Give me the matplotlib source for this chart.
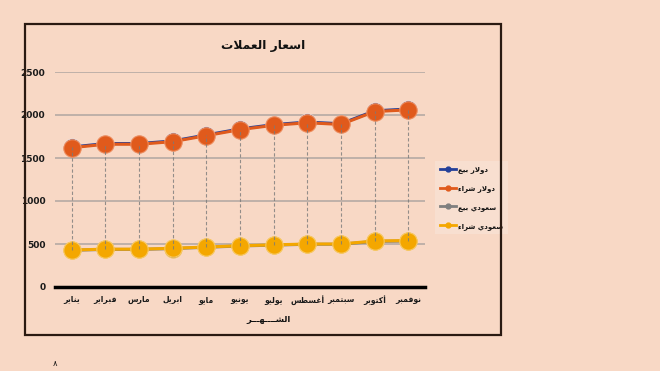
import matplotlib
matplotlib.use('Agg')
import matplotlib.pyplot as plt
from matplotlib.patches import Rectangle
from matplotlib.lines import Line2D

# ---------------- data ----------------
months = ['يناير', 'فبراير', 'مارس', 'ابريل', 'مايو', 'يونيو',
          'يوليو', 'أغسطس', 'سبتمبر', 'أكتوبر', 'نوفمبر']
dollar_sell = [1628, 1668, 1668, 1698, 1768, 1838, 1888, 1918, 1898, 2048, 2070]
dollar_buy = [1620, 1660, 1660, 1690, 1760, 1830, 1880, 1910, 1890, 2040, 2060]
saudi_sell = [427, 437, 437, 447, 462, 477, 487, 497, 497, 530, 535]
saudi_buy = [430, 440, 440, 450, 465, 480, 490, 500, 500, 535, 540]
series_labels = ['دولار بيع', 'دولار شراء', 'سعودي بيع', 'سعودي شراء']
title_text = 'اسعار العملات'
xlabel_text = 'الشــــهـــر'
yticks = [0, 500, 1000, 1500, 2000, 2500]

# ------------- minimal Arabic shaping -------------
_DUAL = {'ب': 0xFE8F, 'ت': 0xFE95, 'ث': 0xFE99, 'ج': 0xFE9D, 'ح': 0xFEA1,
         'خ': 0xFEA5, 'س': 0xFEB1, 'ش': 0xFEB5, 'ص': 0xFEB9, 'ض': 0xFEBD,
         'ط': 0xFEC1, 'ظ': 0xFEC5, 'ع': 0xFEC9, 'غ': 0xFECD, 'ف': 0xFED1,
         'ق': 0xFED5, 'ك': 0xFED9, 'ل': 0xFEDD, 'م': 0xFEE1, 'ن': 0xFEE5,
         'ه': 0xFEE9, 'ي': 0xFEF1, 'ئ': 0xFE89}
_RIGHT = {'آ': 0xFE81, 'أ': 0xFE83, 'ؤ': 0xFE85, 'إ': 0xFE87, 'ا': 0xFE8D,
          'ة': 0xFE93, 'د': 0xFEA9, 'ذ': 0xFEAB, 'ر': 0xFEAD, 'ز': 0xFEAF,
          'و': 0xFEED, 'ى': 0xFEEF}
_LAMALEF = {'آ': 0xFEF5, 'أ': 0xFEF7, 'إ': 0xFEF9, 'ا': 0xFEFB}


def shape(s):
    toks = []
    i = 0
    while i < len(s):
        c = s[i]
        if c == 'ل' and i + 1 < len(s) and s[i + 1] in _LAMALEF:
            toks.append(('R', _LAMALEF[s[i + 1]], None))
            i += 2
            continue
        if c in _DUAL:
            toks.append(('D', _DUAL[c], None))
        elif c in _RIGHT:
            toks.append(('R', _RIGHT[c], None))
        elif c == 'ـ':
            toks.append(('T', None, c))
        else:
            toks.append(('N', None, c))
        i += 1
    out = []
    for k, (t, base, ch) in enumerate(toks):
        if t == 'N':
            out.append(ch)
            continue
        prev = k > 0 and toks[k - 1][0] in ('D', 'T')
        nxt = t in ('D', 'T') and k + 1 < len(toks) and toks[k + 1][0] in ('D', 'R', 'T')
        if t == 'T':
            out.append(ch)
        elif t == 'R':
            out.append(chr(base + (1 if prev else 0)))
        else:
            idx = 3 if (prev and nxt) else 1 if prev else 2 if nxt else 0
            out.append(chr(base + idx))
    return ''.join(out)[::-1]


# ---------------- style ----------------
BG = '#F8D8C5'
C_BLUE = '#23409A'
C_ORANGE = '#E05A1C'
C_GREY = '#7F7F7F'
C_YELLOW = '#F4A700'
FONT = ['DejaVu Sans']

fig = plt.figure(figsize=(6.6, 3.71), dpi=100, facecolor=BG)
ax = fig.add_axes([55 / 660, 1 - 287 / 371, 370 / 660, 215 / 371])
ax.set_facecolor(BG)

x = list(range(len(months)))

# high-low (drop) lines
all_series = [dollar_sell, dollar_buy, saudi_sell, saudi_buy]
hi = [max(v) for v in zip(*all_series)]
lo = [min(v) for v in zip(*all_series)]
ax.vlines(x, lo, hi, colors='#7a7a7a', linestyles=(0, (3, 2)), lw=0.8,
          zorder=6, alpha=0.8)

ms = 12.5
ax.plot(x, dollar_sell, color=C_BLUE, lw=2.2, marker='o', ms=ms,
        mfc=C_BLUE, mec='#F6E6E0', mew=0.6, zorder=3, clip_on=False)
ax.plot(x, dollar_buy, color=C_ORANGE, lw=2.2, marker='o', ms=ms,
        mfc=C_ORANGE, mec='#EE8A5A', mew=0.8, zorder=4, clip_on=False)
ax.plot(x, saudi_sell, color=C_GREY, lw=2.2, marker='o', ms=ms,
        mfc=C_GREY, mec='#F8C860', mew=0.6, zorder=3, clip_on=False)
ax.plot(x, saudi_buy, color=C_YELLOW, lw=2.2, marker='o', ms=ms,
        mfc=C_YELLOW, mec='#F8C860', mew=0.8, zorder=4, clip_on=False)

ax.set_xlim(-0.5, len(months) - 0.5)
ax.set_ylim(0, 2500)
ax.set_yticks(yticks)
ax.set_yticklabels([str(t) for t in yticks], fontsize=6.5, fontweight='bold',
                   family=FONT, color='#1a1a1a')
ax.set_xticks(x)
ax.set_xticklabels([shape(m) for m in months], fontsize=5.5, fontweight='bold',
                   family=FONT, color='#1a1a1a')
ax.tick_params(axis='both', length=0)
ax.tick_params(axis='y', pad=7)
ax.tick_params(axis='x', pad=6)
ax.grid(axis='y', color='#B5AAA4', lw=1.2, zorder=0)
ax.set_axisbelow(True)
for s in ['top', 'right', 'left']:
    ax.spines[s].set_visible(False)
ax.spines['bottom'].set_color('#000000')
ax.spines['bottom'].set_linewidth(2.5)
ax.spines['bottom'].set_zorder(2)

# titles
fig.text(263 / 660, 1 - 46 / 371, shape(title_text), ha='center', va='center',
         fontsize=8.8, fontweight='bold', family=FONT, color='#111111')
fig.text(268 / 660, 1 - 320 / 371, shape(xlabel_text), ha='center', va='center',
         fontsize=6, fontweight='bold', family=FONT, color='#111111')

# frame
fig.patches.append(Rectangle((25 / 660, 1 - 335 / 371), 476 / 660, 311 / 371,
                             transform=fig.transFigure, fill=False,
                             ec='#2a1a12', lw=1.6))

# legend
colors = [C_BLUE, C_ORANGE, C_GREY, C_YELLOW]
handles = [Line2D([0], [0], color=c, lw=2, marker='o', ms=3.5) for c in colors]
leg = ax.legend(handles, [shape(l) for l in series_labels], loc='upper left',
                bbox_to_anchor=(432 / 660, 1 - 158 / 371),
                bbox_transform=fig.transFigure, frameon=True,
                facecolor='#F9E1D3', edgecolor='none', fancybox=False,
                handlelength=2.2, handletextpad=0.3, labelspacing=1.7,
                borderpad=0.7, prop={'size': 5.0, 'weight': 'bold',
                                     'family': FONT})
for t in leg.get_texts():
    t.set_color('#111111')

fig.text(55 / 660, 1 - 364 / 371, '٨', ha='center', va='center', fontsize=6,
         family=FONT, color='#111111')

fig.savefig('out.png', dpi=100, facecolor=BG)
